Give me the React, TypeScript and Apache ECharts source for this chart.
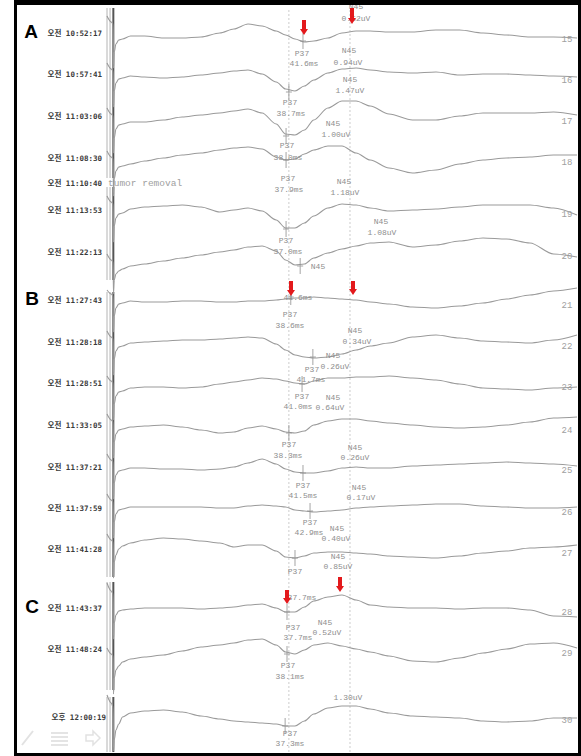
import React, { useEffect, useRef } from "react";
import * as echarts from "echarts";

// time axis of every sweep (ms)
const TIMES_MS = [0, 0.9, 1.3, 1.38, 1.55, 1.9, 2.5, 3.3, 5, 8, 12, 16, 20, 24, 27, 30, 33, 36, 38, 40, 42, 44, 47, 50, 53, 56, 60, 65, 70, 75, 80, 85, 90, 95, 100];

const TRACE_IDS = ["15", "16", "17", "18", "19", "20", "21", "22", "23", "24", "25", "26", "27", "28", "29", "30"];
const TRACE_TIMES = [
  "오전 10:52:17", "오전 10:57:41", "오전 11:03:06", "오전 11:08:30", "오전 11:13:53", "오전 11:22:13",
  "오전 11:27:43", "오전 11:28:18", "오전 11:28:51", "오전 11:33:05", "오전 11:37:21", "오전 11:37:59",
  "오전 11:41:28", "오전 11:43:37", "오전 11:48:24", "오후 12:00:19",
];
// vertical offset of each sweep (stack level)
const BASELINES = [714, 675, 629, 587, 540, 484, 450, 407, 362, 324, 283, 244, 204, 143, 90, 37];

// amplitudes of each sweep relative to its baseline
const trace15 = [22, 16, 14, -30, -14, -6, -2, -1, 2, 2, 0, 0, 1, 5, 9, 14, 12, 7, 3, -1, -4, -3, 0, 5, 7, 7, 6, 6, 8, 8, 5, 3, 1, 1, 0];
const trace16 = [14, 8, 6, -30, -14, -6, -2, -1, 1, 0, -1, 0, 2, 4, 6, 7, 3, -5, -12, -14, -9, -3, 4, 8, 9, 7, 5, 4, 5, 2, 3, 3, 2, 1, 0];
const trace17 = [15, 9, 7, -30, -15, -6, -2, -1, 1, 1, 3, 6, 8, 10, 12, 14, 10, -1, -11, -12, -7, 3, 15, 22, 22, 17, 9, 3, 3, 7, 10, 10, 10, 11, 8];
const trace18 = [14, 8, 6, -31, -14, -6, -2, -1, 1, 4, 7, 10, 12, 15, 17, 18, 16, 8, 5, 6, 11, 15, 19, 19, 12, 5, -3, -8, -5, 1, 5, 7, 8, 10, 10];
const trace19 = [16, 10, 8, -30, -14, -6, -2, -1, 3, 5, 6, 7, 5, 0, 2, 4, 1, -8, -16, -16, -11, -4, 4, 8, 7, 4, 1, 2, 3, 5, 7, 7, 7, 4, -3];
const trace20 = [14, 8, 6, -26, -12, -6, -3, -1, 2, 4, 7, 10, 13, 16, 18, 21, 22, 17, 8, 3, 4, 10, 15, 19, 22, 25, 26, 21, 23, 27, 30, 29, 25, 14, 11];
const trace21 = [12, 8, 6, -30, -14, -6, -2, -1, 1, 0, 0, 1, 1, 0, 0, 1, 1, 2, 3, 4, 4, 5, 4, 3, 2, 0, -2, -5, -6, -4, -1, 3, 7, 11, 14];
const trace22 = [14, 8, 6, -30, -14, -6, -2, -1, 2, 3, 4, 5, 5, 6, 7, 8, 7, 1, -5, -10, -12, -13, -12, -9, -5, -1, 2, 8, 10, 7, 4, 3, 2, 5, 10];
const trace23 = [14, 9, 7, -30, -14, -6, -2, -1, 2, 3, 3, 2, 3, 6, 8, 10, 12, 11, 9, 7, 6, 9, 12, 12, 13, 13, 14, 12, 10, 6, 2, 1, 0, 2, 3];
const trace24 = [14, 8, 6, -30, -14, -6, -2, -1, 1, 2, 3, 1, -2, -5, -4, 0, 2, -1, -4, -5, -3, 3, 7, 9, 9, 7, 5, 3, 1, 0, 1, 3, 6, 10, 11];
const trace25 = [15, 9, 7, -30, -14, -6, -2, -1, 1, 1, 0, 0, -1, 0, 2, 6, 10, 5, 0, -3, -4, -4, -2, 1, 2, 1, 1, 3, 4, 5, 6, 7, 6, 5, 3];
const trace26 = [14, 8, 6, -30, -14, -6, -2, -1, 1, 1, 1, 1, 1, 0, 0, 2, 3, 2, 1, -2, -3, -4, -3, -2, 0, 1, 2, 3, 4, 4, 2, 1, 0, 0, 1];
const trace27 = [14, 8, 6, -30, -14, -7, -1, 2, 5, 8, 10, 9, 7, 5, 1, 3, 3, -3, -9, -10, -8, -5, -4, -4, -5, -6, -8, -9, -10, -8, -5, -3, 0, 1, 3];
const trace28 = [26, 18, 15, -30, -14, -6, -2, -1, 0, 1, 1, 1, 0, 1, 2, 4, 5, 1, -3, -3, 2, 8, 12, 14, 9, 4, 2, 1, 1, 0, 1, 1, -1, -7, -8];
const trace29 = [14, 8, 6, -32, -16, -8, -4, 0, 3, 5, 7, 11, 15, 17, 19, 22, 23, 17, 10, 8, 12, 17, 19, 16, 13, 10, 6, 1, 0, 4, 9, 13, 18, 19, 14];
const trace30 = [20, 12, 8, -36, -25, -15, -9, -2, 2, 4, 5, 3, -1, -4, -6, -7, -8, -9, -11, -11, -6, 1, 7, 9, 9, 6, 2, -1, -2, -3, -6, -7, -6, -3, -3];

const TRACES = [trace15, trace16, trace17, trace18, trace19, trace20, trace21, trace22, trace23, trace24, trace25, trace26, trace27, trace28, trace29, trace30];

// P37 cursor marks [ms, level]
const P37_MARKS = [
  [41.7, 711], [38.7, 660], [38.1, 616], [38.1, 592], [38.1, 523], [41.1, 486],
  [39.1, 455], [43.8, 395], [41.5, 368], [38.7, 319], [41.7, 279], [43.2, 241],
  [40.0, 194], [38.3, 140], [38.3, 98], [37.9, 26],
];

// reference cursors (ms)
const REF_LINES_MS = [38.7, 51.7];

// stimulus bars per block: [fromLevel, toLevel]
const BLOCK_SPANS = [[744, 574], [565, 472], [460, 175], [170, 62], [55, 0]];

// peak annotations: text, x, y (pixels)
const ANNOTATIONS: [string, number, number][] = [
  ["N45", 356, 6], ["0.52uV", 356, 18], ["P37", 302, 53], ["41.6ms", 304, 63],
  ["N45", 349, 50], ["0.94uV", 348, 62], ["N45", 350, 79], ["1.47uV", 350, 90],
  ["P37", 290, 102], ["38.7ms", 291, 113], ["N45", 333, 123], ["1.00uV", 336, 134],
  ["P37", 287, 145], ["38.0ms", 288, 157], ["P37", 288, 178], ["37.9ms", 289, 189],
  ["N45", 344, 181], ["1.18uV", 345, 192], ["N45", 381, 221], ["1.08uV", 382, 232],
  ["P37", 286, 240], ["37.0ms", 288, 251], ["N45", 318, 266],
  ["41.6ms", 298, 297], ["P37", 290, 314], ["38.6ms", 290, 325], ["N45", 355, 330],
  ["0.34uV", 357, 341], ["N45", 333, 355], ["0.26uV", 335, 366], ["P37", 312, 369],
  ["41.7ms", 311, 379], ["P37", 302, 396], ["41.0ms", 298, 406], ["N45", 333, 397],
  ["0.64uV", 330, 407], ["P37", 289, 444], ["38.3ms", 288, 455], ["N45", 355, 447],
  ["0.26uV", 355, 457], ["P37", 303, 485], ["41.5ms", 303, 495], ["N45", 359, 487],
  ["0.17uV", 361, 497], ["P37", 310, 522], ["42.9ms", 309, 532], ["N45", 337, 528],
  ["0.40uV", 336, 538], ["N45", 338, 556], ["0.85uV", 338, 566], ["P37", 295, 571],
  ["37.7ms", 302, 597], ["P37", 293, 627], ["37.7ms", 298, 637], ["N45", 325, 622],
  ["0.52uV", 327, 632], ["P37", 288, 665], ["38.1ms", 290, 676], ["1.30uV", 348, 697],
  ["P37", 290, 733], ["37.3ms", 290, 743],
];

const LEFT_LABEL_Y = [33, 74, 116, 158, 210, 252, 300, 342, 383, 425, 467, 508, 549, 608, 649, 717];
const RIGHT_LABEL_Y = [40, 81, 122, 163, 215, 257, 306, 347, 388, 431, 471, 513, 554, 613, 654, 721];

// red arrows: x, top, tip
const ARROWS: [number, number, number][] = [
  [304, 20, 35], [352, 8, 24], [291, 281, 296], [353, 281, 295], [287, 590, 604], [340, 577, 592],
];

const PANELS: [string, number, number][] = [["A", 31, 31], ["B", 32, 298], ["C", 32, 606]];

const MONO = "'Liberation Mono', 'DejaVu Sans Mono', monospace";

function txt(text: string, x: number, y: number, extra: any = {}) {
  const st: any = {
    text, x, y, fill: "#8e8e8e", fontSize: 8, fontFamily: MONO,
    align: "center", textAlign: "center", verticalAlign: "middle", textVerticalAlign: "middle",
    ...extra,
  };
  return { type: "text", silent: true, z: 10, style: st };
}

export default function App() {
  const ref = useRef<HTMLDivElement>(null);
  useEffect(() => {
    if (!ref.current) return;
    const chart = echarts.init(ref.current, undefined, { renderer: "svg" });
    const series: any[] = [];
    TRACES.forEach((amps, k) => {
      series.push({
        type: "line",
        data: TIMES_MS.map((t, i) => [t, BASELINES[k] + amps[i]]),
        showSymbol: false,
        smooth: 0.3,
        smoothMonotone: "x",
        silent: true,
        lineStyle: { color: "#9a9a9a", width: 1.1 },
        z: 3,
      });
    });
    REF_LINES_MS.forEach((t) => {
      series.push({
        type: "line", data: [[t, 0], [t, 744]], showSymbol: false, silent: true,
        lineStyle: { color: "#cccccc", width: 1, type: [2, 2] }, z: 1,
      });
    });
    BLOCK_SPANS.forEach(([a, b]) => {
      [0, 0.65].forEach((t) => {
        series.push({
          type: "line", data: [[t, a], [t, b]], showSymbol: false, silent: true,
          lineStyle: { color: "#b4b4b4", width: 1 }, z: 2,
        });
      });
      series.push({
        type: "line", data: [[1.35, a], [1.35, b]], showSymbol: false, silent: true,
        lineStyle: { color: "#555", width: 2 }, z: 2,
      });
    });
    series.push({
      type: "scatter", data: P37_MARKS, silent: true,
      symbol: "path://M2.5,0h1v16h-1zM0,7.5h6v1h-6z", symbolSize: [6, 16],
      itemStyle: { color: "#8e8e8e" }, z: 4,
    });

    const graphic: any[] = [];
    ANNOTATIONS.forEach(([t, x, y]) => graphic.push(txt(t, x, y)));
    TRACE_IDS.forEach((id, k) => graphic.push(txt(id, 567, RIGHT_LABEL_Y[k], { fontSize: 9, fill: "#a0a0a0" })));
    const leftStyle = {
      align: "right", textAlign: "right", fontSize: 7.5, fontWeight: "bold", fill: "#3a3a3a",
      fontFamily: "'DejaVu Sans Mono', 'Noto Sans CJK KR', monospace",
    };
    TRACE_TIMES.forEach((s, k) => graphic.push(txt(s, k === 15 ? 106 : 102, LEFT_LABEL_Y[k], leftStyle)));
    graphic.push(txt("오전 11:10:40", 102, 183, leftStyle));
    graphic.push(txt("tumor removal", 108, 183, { align: "left", textAlign: "left", fontSize: 9.5, fill: "#a0a0a0" }));
    PANELS.forEach(([p, x, y]) =>
      graphic.push(txt(p, x, y, { fontSize: 19, fontWeight: "bold", fill: "#000", fontFamily: "'Liberation Sans', Arial, sans-serif" }))
    );
    ARROWS.forEach(([cx, top, tip]) =>
      graphic.push({
        type: "polygon", silent: true, z: 12,
        shape: { points: [[cx - 2, top], [cx + 2, top], [cx + 2, tip - 6], [cx + 4, tip - 6], [cx, tip], [cx - 4, tip - 6], [cx - 2, tip - 6]] },
        style: { fill: "#e3191c" },
      })
    );
    // faint toolbar icons
    graphic.push({ type: "line", silent: true, z: 5, shape: { x1: 22, y1: 745, x2: 33, y2: 731 }, style: { stroke: "#e2e2e2", lineWidth: 2 } });
    [732, 736, 740, 744].forEach((yy) =>
      graphic.push({ type: "rect", silent: true, z: 5, shape: { x: 51, y: yy, width: 17, height: 2 }, style: { fill: "#e4e4e4" } })
    );
    graphic.push({
      type: "polygon", silent: true, z: 5,
      shape: { points: [[86, 735], [93, 735], [93, 731], [100, 738], [93, 745], [93, 741], [86, 741]] },
      style: { fill: "none", stroke: "#e2e2e2", lineWidth: 1.5 },
    });
    // black frame
    [[14, 0, 567, 5], [14, 0, 3, 756], [578, 0, 3, 756], [14, 753, 567, 3]].forEach(([x, y, w, h]) =>
      graphic.push({ type: "rect", silent: true, z: 20, shape: { x, y, width: w, height: h }, style: { fill: "#000" } })
    );

    chart.setOption({
      animation: false,
      backgroundColor: "#fff",
      grid: { left: 107, right: 4, top: 8, bottom: 4 },
      xAxis: { type: "value", min: 0, max: 100, show: false },
      yAxis: { type: "value", min: 0, max: 744, show: false },
      series,
      graphic,
    });
    return () => chart.dispose();
  }, []);
  return <div ref={ref} style={{ position: "fixed", left: 0, top: 0, width: 581, height: 756 }} />;
}
